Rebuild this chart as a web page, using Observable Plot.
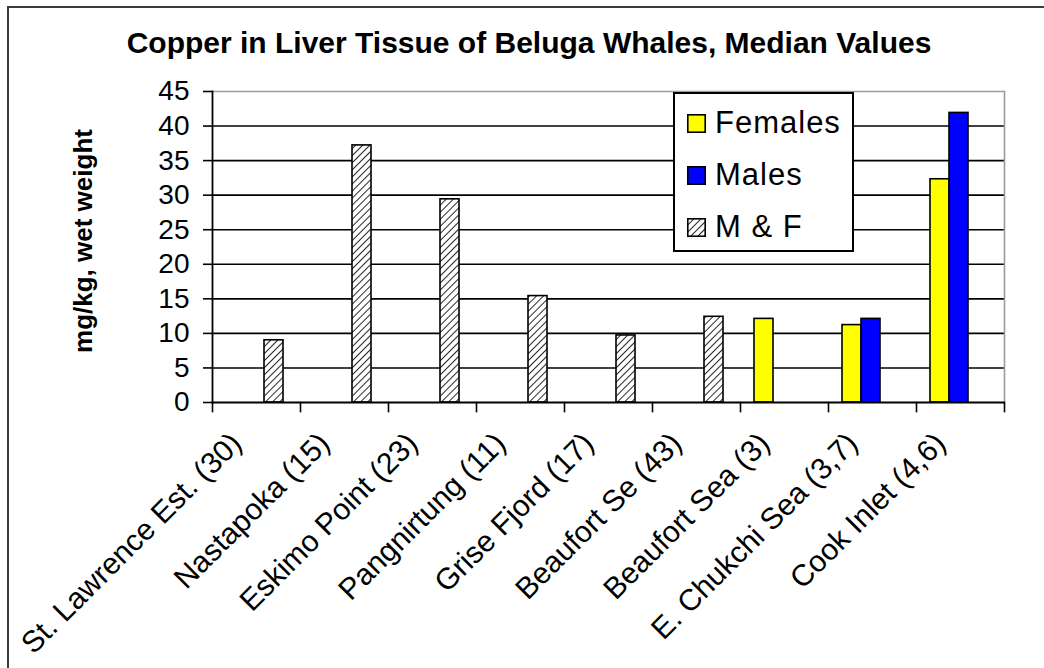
<!DOCTYPE html>
<html>
<head>
<meta charset="utf-8">
<script src="https://cdn.jsdelivr.net/npm/d3@7"></script>
<script src="https://cdn.jsdelivr.net/npm/@observablehq/plot@0.6"></script>
<style>
  body { margin: 0; background: #fff; font-family: "Liberation Sans", Arial, sans-serif; }
  #wrap { position: relative; width: 1044px; height: 668px; overflow: hidden; background: #fff; }
  #frame { position: absolute; left: 7px; top: 6px; width: 1100px; height: 700px;
           border-top: 2px solid #3c3c3c; border-left: 2px solid #3c3c3c; }
  #chart { position: absolute; left: 0; top: 0; }
  #title { position: absolute; left: 0; width: 1058px; top: 28px; text-align: center;
           font-weight: bold; font-size: 30px; line-height: 30px; color: #000; white-space: nowrap; }
  #ylabel { position: absolute; left: 83px; top: 241px; transform: translate(-50%, -50%) rotate(-90deg);
            font-weight: bold; font-size: 26px; white-space: nowrap; color: #000; }
  #legend { position: absolute; left: 673px; top: 92px; width: 177px; height: 156px;
            border: 2px solid #000; background: #fff; }
  .lrow { position: absolute; left: 12px; height: 40px; display: flex; align-items: center; }
  .lrow svg { margin-right: 9px; }
  .lrow span { font-size: 31px; letter-spacing: 1px; color: #000; }
</style>
</head>
<body>
<div id="wrap">
  <svg width="0" height="0" style="position:absolute">
    <defs>
      <pattern id="hatch" patternUnits="userSpaceOnUse" width="5" height="5" patternTransform="rotate(45)">
        <rect width="5" height="5" fill="#fff"></rect>
        <line x1="0" y1="0" x2="0" y2="5" stroke="#000" stroke-width="1.7"></line>
      </pattern>
    </defs>
  </svg>
  <div id="frame"></div>
  <div id="chart"></div>
  <div id="title"></div>
  <div id="ylabel"></div>
  <div id="legend"></div>
</div>
<script>
const titleText = "Copper in Liver Tissue of Beluga Whales, Median Values";
const yLabelText = "mg/kg, wet weight";
const locations = [
  "St. Lawrence Est. (30)", "Nastapoka (15)", "Eskimo Point (23)", "Pangnirtung (11)",
  "Grise Fjord (17)", "Beaufort Se (43)", "Beaufort Sea (3)", "E. Chukchi Sea (3,7)", "Cook Inlet (4,6)"
];
const series = ["Females", "Males", "M & F"];
const seriesColors = ["#ffff00", "#0000ff", "url(#hatch)"];
const femalesValues = [null, null, null, null, null, null, 12.1, 11.2, 32.3];
const malesValues   = [null, null, null, null, null, null, null, 12.1, 41.9];
const mfValues      = [9.0, 37.2, 29.4, 15.4, 9.7, 12.4, null, null, null];
const yTicks = [0, 5, 10, 15, 20, 25, 30, 35, 40, 45];

const valuesBySeries = [femalesValues, malesValues, mfValues];
const table = [];
locations.forEach((loc, i) => {
  series.forEach((s, j) => {
    const v = valuesBySeries[j][i];
    if (v != null) table.push({location: loc, series: s, value: v});
  });
});

document.getElementById("title").textContent = titleText;
document.getElementById("ylabel").textContent = yLabelText;

const W = 1044, H = 668, mL = 210, mR = 39, mT = 91, mB = 266;
const plotH = H - mT - mB;

const chart = Plot.plot({
  width: W, height: H,
  marginLeft: mL, marginRight: mR, marginTop: mT, marginBottom: mB,
  style: {background: "transparent", fontFamily: "'Liberation Sans', Arial, sans-serif", color: "#000"},
  fx: {domain: locations, padding: 0, label: null, axis: null},
  x: {domain: series, paddingInner: 0, paddingOuter: 0.75, align: 0.45, axis: null},
  y: {domain: [0, 45], label: null, axis: null},
  color: {domain: series, range: seriesColors},
  marks: [
    Plot.gridY(yTicks.filter(t => t > 0 && t < 45), {stroke: "#000", strokeOpacity: 1, strokeWidth: 1.6}),
    Plot.gridY([45], {stroke: "#9a9a9a", strokeOpacity: 1, strokeWidth: 1.6}),
    Plot.frame({anchor: "right", facetAnchor: "right", stroke: "#9a9a9a", strokeWidth: 1.6}),
    Plot.barY(table, {fx: "location", x: "series", y: "value", fill: "series", stroke: "#000", strokeWidth: 1.6}),
    Plot.gridY([0], {stroke: "#000", strokeOpacity: 1, strokeWidth: 1.8}),
    Plot.frame({anchor: "left", insetTop: plotH, insetBottom: -9, stroke: "#000", strokeWidth: 1.6}),
    Plot.frame({anchor: "right", facetAnchor: "right", insetTop: plotH, insetBottom: -9, stroke: "#000", strokeWidth: 1.6}),
    Plot.frame({anchor: "left", facetAnchor: "left", stroke: "#000", strokeWidth: 1.8}),
    Plot.axisY({ticks: yTicks, tickSize: 9, tickPadding: 14, fontSize: 28, label: null, strokeWidth: 1.6}),
    Plot.axisFx({anchor: "bottom", tickRotate: -45, tickSize: 0, tickPadding: 36, dx: -20, dy: 0, fontSize: 30, label: null})
  ]
});
document.getElementById("chart").appendChild(chart);

const legend = document.getElementById("legend");
const rowCenters = [29, 81, 133];
series.forEach((s, j) => {
  const row = document.createElement("div");
  row.className = "lrow";
  row.style.top = (rowCenters[j] - 20) + "px";
  row.innerHTML = `<svg width="19" height="19"><rect x="0.8" y="0.8" width="17.4" height="17.4" fill="${seriesColors[j]}" stroke="#000" stroke-width="1.6"></rect></svg><span></span>`;
  row.querySelector("span").textContent = s;
  legend.appendChild(row);
});
</script>
</body>
</html>
